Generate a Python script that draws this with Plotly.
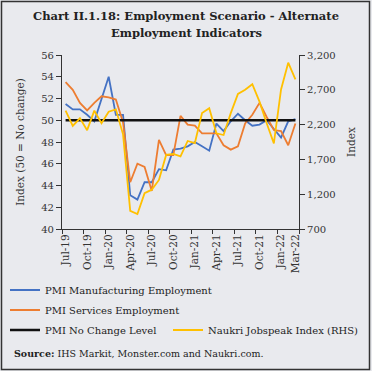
import plotly.graph_objects as go

months = ["Jul-19","Aug-19","Sep-19","Oct-19","Nov-19","Dec-19","Jan-20","Feb-20","Mar-20",
          "Apr-20","May-20","Jun-20","Jul-20","Aug-20","Sep-20","Oct-20","Nov-20","Dec-20",
          "Jan-21","Feb-21","Mar-21","Apr-21","May-21","Jun-21","Jul-21","Aug-21","Sep-21",
          "Oct-21","Nov-21","Dec-21","Jan-22","Feb-22","Mar-22"]

pmi_mfg = [51.5, 51.0, 51.0, 50.5, 49.9, 51.9, 54.0, 50.5, 50.5, 43.1, 42.7, 44.3, 44.3,
           45.5, 45.4, 47.3, 47.4, 47.6, 48.0, 47.6, 47.2, 49.7, 49.0, 49.9, 50.6, 50.0,
           49.5, 49.6, 50.0, 49.2, 48.4, 49.9, 50.1]
pmi_serv = [53.5, 52.8, 51.6, 50.9, 51.6, 52.2, 52.1, 51.9, 49.8, 44.3, 46.0, 45.7, 43.5,
            48.2, 46.8, 46.8, 50.4, 49.6, 49.5, 48.8, 48.8, 48.8, 47.7, 47.3, 47.6, 49.7,
            50.5, 51.6, 50.3, 49.1, 49.0, 47.7, 49.7]
no_change = [50] * len(months)
naukri = [2400, 2180, 2290, 2120, 2400, 2220, 2385, 2420, 2060, 960, 915, 1215, 1265, 1405,
          1765, 1780, 1745, 1965, 1935, 2365, 2435, 2075, 2050, 2365, 2640, 2700, 2780,
          2530, 2220, 1930, 2705, 3090, 2850]

tick_labels = ["Jul-19","Oct-19","Jan-20","Apr-20","Jul-20","Oct-20","Jan-21","Apr-21",
               "Jul-21","Oct-21","Jan-22","Mar-22"]

idx = list(range(len(months)))
tick_pos = [months.index(m) for m in tick_labels]
bound_pos = [i - 0.5 for i in range(0, len(months) + 1, 3)]

W, H = 372, 371
ML, MR, MT, MB = 62, 73, 55, 142
PW, PH = W - ML - MR, H - MT - MB

def px(x):
    return (x - ML) / PW

def py(y):
    return (H - MB - y) / PH

FONT = "DejaVu Serif"
BG = "#E9EAEE"
AX = "#333333"

fig = go.Figure()
fig.add_trace(go.Scatter(x=idx, y=pmi_mfg, mode="lines", name="PMI Manufacturing Employment",
                         line=dict(color="#4472C4", width=1.8), legend="legend"))
fig.add_trace(go.Scatter(x=idx, y=pmi_serv, mode="lines", name="PMI Services Employment",
                         line=dict(color="#ED7D31", width=1.8), legend="legend2"))
fig.add_trace(go.Scatter(x=idx, y=no_change, mode="lines", name="PMI No Change Level",
                         line=dict(color="#111111", width=2.5), legend="legend3"))
fig.add_trace(go.Scatter(x=idx, y=naukri, mode="lines", name="Naukri Jobspeak Index (RHS)",
                         line=dict(color="#FFC000", width=1.8), yaxis="y2", legend="legend4"))
fig.add_trace(go.Scatter(x=[None], y=[None], xaxis="x2", showlegend=False, hoverinfo="skip"))

leg_common = dict(orientation="v", xanchor="left", yanchor="middle", bgcolor="rgba(0,0,0,0)",
                  font=dict(family=FONT, size=10, color="#222222"), borderwidth=0)

fig.update_layout(
    width=W, height=H,
    margin=dict(l=ML, r=MR, t=MT, b=MB, pad=0, autoexpand=False),
    paper_bgcolor=BG, plot_bgcolor=BG,
    font=dict(family=FONT, size=10, color="#333333"),
    showlegend=True,
    legend=dict(x=px(5), y=py(290), **leg_common),
    legend2=dict(x=px(5), y=py(310), **leg_common),
    legend3=dict(x=px(5), y=py(330), **leg_common),
    legend4=dict(x=px(168), y=py(330), **leg_common),
    xaxis=dict(range=[-0.5, len(months) - 0.5], tickmode="array", tickvals=tick_pos,
               ticktext=tick_labels, tickangle=-90, ticks="", showline=True, linecolor=AX,
               linewidth=1.2, showgrid=False, zeroline=False, automargin=False,
               tickfont=dict(family=FONT, size=10.5, color="#333333")),
    xaxis2=dict(range=[-0.5, len(months) - 0.5], overlaying="x", anchor="y", side="bottom",
                tickmode="array", tickvals=bound_pos, ticks="outside", ticklen=4,
                tickcolor=AX, tickwidth=1.2, showticklabels=False, showline=False,
                showgrid=False, zeroline=False, automargin=False),
    yaxis=dict(range=[40, 56], dtick=2, ticks="outside", ticklen=5, tickcolor=AX, tickwidth=1.2,
               showline=True, linecolor=AX, linewidth=1.2, showgrid=False, zeroline=False,
               automargin=False,
               tickfont=dict(family=FONT, size=10, color="#333333"),
               title=dict(text="Index (50 = No change)", standoff=14,
                          font=dict(family=FONT, size=10.5, color="#333333"))),
    yaxis2=dict(range=[700, 3200], tick0=700, dtick=500, tickformat=",", overlaying="y",
                side="right", ticks="outside", ticklen=5, tickcolor=AX, tickwidth=1.2,
                showline=True, linecolor=AX, linewidth=1.2, showgrid=False, zeroline=False,
                automargin=False,
                tickfont=dict(family=FONT, size=10, color="#333333"),
                title=dict(text="Index", standoff=12,
                           font=dict(family=FONT, size=10.5, color="#333333"))),
    annotations=[
        dict(text="<b>Chart II.1.18: Employment Scenario - Alternate</b>", xref="paper",
             yref="paper", x=px(W / 2), y=py(16), xanchor="center", yanchor="middle",
             showarrow=False, font=dict(family=FONT, size=11.5, color="#222222")),
        dict(text="<b>Employment Indicators</b>", xref="paper", yref="paper", x=px(W / 2),
             y=py(33), xanchor="center", yanchor="middle", showarrow=False,
             font=dict(family=FONT, size=11.5, color="#222222")),
        dict(text="<b>Source:</b> IHS Markit, Monster.com and Naukri.com.", xref="paper",
             yref="paper", x=px(12), y=py(353), xanchor="left", yanchor="middle",
             showarrow=False, font=dict(family=FONT, size=9.5, color="#222222")),
    ],
    shapes=[dict(type="rect", xref="paper", yref="paper", x0=px(1.5), x1=px(369.5),
                 y0=py(369.5), y1=py(1.5), line=dict(color="#333333", width=1.5),
                 fillcolor="rgba(0,0,0,0)", layer="above")],
)

fig.write_html("out.html", config={"displayModeBar": False},
               post_script="document.body.style.margin='0';document.body.style.padding='0';"
                           "document.body.style.overflow='hidden';")
